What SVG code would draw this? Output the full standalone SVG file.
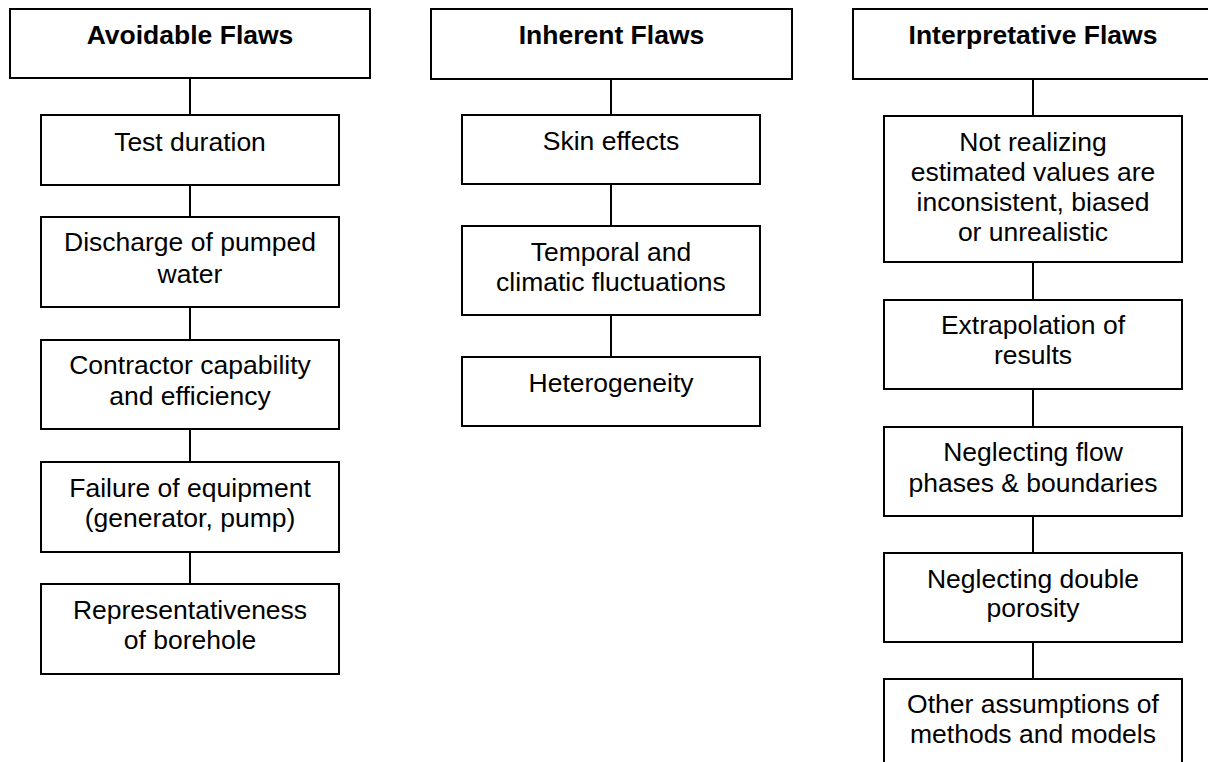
<svg xmlns="http://www.w3.org/2000/svg" width="1208" height="762" viewBox="0 0 1208 762">
<style>
rect{fill:#fff;stroke:#000;stroke-width:2}
.c line{stroke:#000;stroke-width:2}
text{font-family:"Liberation Sans",Arial,sans-serif;font-size:26.5px;fill:#000;text-anchor:middle}
.h{font-weight:bold}
</style>
<rect x="0" y="0" width="1208" height="762" style="stroke:none"/>
<g class="c" id="connectors">
<line x1="190" y1="78" x2="190" y2="115"/>
<line x1="190" y1="185" x2="190" y2="217"/>
<line x1="190" y1="307" x2="190" y2="340"/>
<line x1="190" y1="429" x2="190" y2="462"/>
<line x1="190" y1="552" x2="190" y2="584"/>
<line x1="611" y1="79" x2="611" y2="115"/>
<line x1="611" y1="184" x2="611" y2="226"/>
<line x1="611" y1="315" x2="611" y2="357"/>
<line x1="1033" y1="79" x2="1033" y2="116"/>
<line x1="1033" y1="262" x2="1033" y2="300"/>
<line x1="1033" y1="389" x2="1033" y2="427"/>
<line x1="1033" y1="516" x2="1033" y2="553"/>
<line x1="1033" y1="642" x2="1033" y2="679"/>
</g>
<g id="avoidable">
<rect x="10" y="9" width="360" height="69"/>
<text class="h" x="190" y="44">Avoidable Flaws</text>
</g>
<g id="test-duration">
<rect x="41" y="115" width="298" height="70"/>
<text x="190" y="151">Test duration</text>
</g>
<g id="discharge">
<rect x="41" y="217" width="298" height="90"/>
<text x="190" y="251">Discharge of pumped</text>
<text x="190" y="283">water</text>
</g>
<g id="contractor">
<rect x="41" y="340" width="298" height="89"/>
<text x="190" y="374">Contractor capability</text>
<text x="190" y="405">and efficiency</text>
</g>
<g id="failure">
<rect x="41" y="462" width="298" height="90"/>
<text x="190" y="497">Failure of equipment</text>
<text x="190" y="527">(generator, pump)</text>
</g>
<g id="representativeness">
<rect x="41" y="584" width="298" height="90"/>
<text x="190" y="619">Representativeness</text>
<text x="190" y="649">of borehole</text>
</g>
<g id="inherent">
<rect x="431" y="9" width="361" height="70"/>
<text class="h" x="611.5" y="44">Inherent Flaws</text>
</g>
<g id="skin">
<rect x="462" y="115" width="298" height="69"/>
<text x="611" y="150">Skin effects</text>
</g>
<g id="temporal">
<rect x="462" y="226" width="298" height="89"/>
<text x="611" y="261">Temporal and</text>
<text x="611" y="291">climatic fluctuations</text>
</g>
<g id="heterogeneity">
<rect x="462" y="357" width="298" height="69"/>
<text x="611" y="392">Heterogeneity</text>
</g>
<g id="interpretative">
<rect x="853" y="9" width="360" height="70"/>
<text class="h" x="1033" y="44">Interpretative Flaws</text>
</g>
<g id="not-realizing">
<rect x="884" y="116" width="298" height="146"/>
<text x="1033" y="151">Not realizing</text>
<text x="1033" y="181">estimated values are</text>
<text x="1033" y="211">inconsistent, biased</text>
<text x="1033" y="241">or unrealistic</text>
</g>
<g id="extrapolation">
<rect x="884" y="300" width="298" height="89"/>
<text x="1033" y="334">Extrapolation of</text>
<text x="1033" y="364">results</text>
</g>
<g id="neglecting-flow">
<rect x="884" y="427" width="298" height="89"/>
<text x="1033" y="461">Neglecting flow</text>
<text x="1033" y="492">phases &amp; boundaries</text>
</g>
<g id="neglecting-double">
<rect x="884" y="553" width="298" height="89"/>
<text x="1033" y="588">Neglecting double</text>
<text x="1033" y="617">porosity</text>
</g>
<g id="other">
<rect x="884" y="679" width="298" height="90"/>
<text x="1033" y="713">Other assumptions of</text>
<text x="1033" y="743">methods and models</text>
</g>
</svg>
